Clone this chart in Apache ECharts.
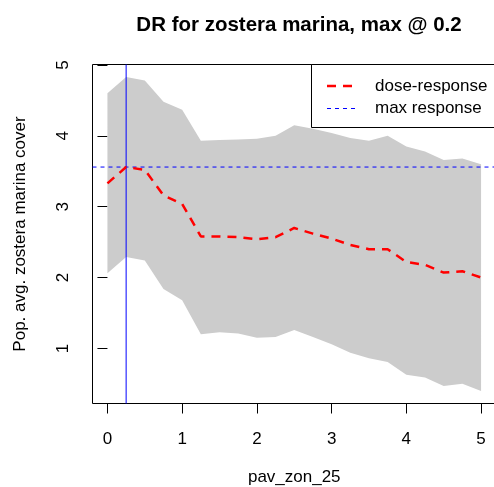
<!DOCTYPE html>
<html>
<head>
<meta charset="utf-8">
<script src="https://cdn.jsdelivr.net/npm/echarts@6/dist/echarts.min.js"></script>
<style>html,body{margin:0;padding:0;background:#fff}#c{width:494px;height:487px}</style>
</head>
<body>
<div id="c"></div>
<script>
var xValues = [0,0.25,0.5,0.75,1,1.25,1.5,1.75,2,2.25,2.5,2.75,3,3.25,3.5,3.75,4,4.25,4.5,4.75,5];
var doseResponse = [3.33,3.56,3.52,3.16,3.04,2.58,2.58,2.57,2.54,2.57,2.70,2.62,2.55,2.46,2.40,2.40,2.22,2.18,2.07,2.09,2.00];
var upperBand = [4.60,4.83,4.78,4.48,4.37,3.93,3.94,3.95,3.96,4.00,4.15,4.10,4.04,3.97,3.93,4.00,3.85,3.78,3.66,3.68,3.60];
var lowerBand = [2.06,2.29,2.24,1.84,1.68,1.20,1.23,1.21,1.15,1.16,1.26,1.16,1.06,0.94,0.86,0.81,0.63,0.59,0.47,0.50,0.40];
var maxX = 0.25;
var maxY = 3.56;
var xTicks = [0,1,2,3,4,5];
var yTicks = [1,2,3,4,5];
var titleText = 'DR for zostera marina, max @ 0.2';
var xLabel = 'pav_zon_25';
var yLabel = 'Pop. avg. zostera marina cover';
var legendNames = ['dose-response','max response'];

var allY = upperBand.concat(lowerBand).concat(doseResponse);
var yLo = Math.min.apply(null, allY), yHi = Math.max.apply(null, allY);
var xLo = Math.min.apply(null, xValues), xHi = Math.max.apply(null, xValues);
var yPad = (yHi - yLo) * 0.04, xPad = (xHi - xLo) * 0.04;
var xMin = xLo - xPad, xMax = xHi + xPad, yMin = yLo - yPad, yMax = yHi + yPad;

function pairs(ys){ return xValues.map(function(x,i){ return [x, ys[i]]; }); }
var bandData = xValues.map(function(x,i){ return [x, lowerBand[i], upperBand[i]]; });

var font = 'Liberation Sans, Arial, sans-serif';
var chart = echarts.init(document.getElementById('c'), null, {renderer:'canvas'});
chart.setOption({
  animation: false,
  backgroundColor: '#fff',
  title: {
    text: titleText, left: 294, top: 10, textAlign: 'center',
    textStyle: {fontFamily: font, fontSize: 20.5, fontWeight: 'bold', color: '#000'}
  },
  grid: {left: 92.5, top: 64.5, width: 403.5, height: 339, outerBoundsMode: 'none', containLabel: false,
         show: true, borderColor: '#000', borderWidth: 1, backgroundColor: 'transparent'},
  xAxis: {
    type: 'value', min: xMin, max: xMax,
    name: xLabel, nameLocation: 'middle', nameGap: 65,
    nameTextStyle: {fontFamily: font, fontSize: 17, color: '#000'},
    splitLine: {show: false}, axisLine: {show: false},
    axisTick: {show: true, length: 10, inside: false, lineStyle: {color: '#000'}, customValues: xTicks},
    axisLabel: {fontFamily: font, fontSize: 17, color: '#000', margin: 27, customValues: xTicks}
  },
  yAxis: {
    type: 'value', min: yMin, max: yMax,
    name: yLabel, nameLocation: 'middle', nameGap: 64, nameRotate: 90,
    nameTextStyle: {fontFamily: font, fontSize: 17, color: '#000'},
    splitLine: {show: false}, axisLine: {show: false},
    axisTick: {show: true, length: 10, lineStyle: {color: '#000'}, customValues: yTicks},
    axisLabel: {fontFamily: font, fontSize: 17, color: '#000', margin: 21, rotate: 90, customValues: yTicks}
  },
  series: [
    {type: 'custom', data: bandData, silent: true, z: 1,
     encode: {x: 0, y: [1, 2]},
     renderItem: function(params, api){
       if (params.dataIndex !== 0) return null;
       var pts = [];
       for (var i = 0; i < bandData.length; i++) pts.push(api.coord([bandData[i][0], bandData[i][2]]));
       for (var j = bandData.length - 1; j >= 0; j--) pts.push(api.coord([bandData[j][0], bandData[j][1]]));
       return {type: 'polygon', shape: {points: pts}, style: {fill: '#CCCCCC', stroke: null}};
     }},
    {type: 'line', name: legendNames[0], data: pairs(doseResponse), symbol: 'none', z: 3,
     lineStyle: {color: '#FF0000', width: 2.5, type: [9, 7]}},
    {type: 'line', name: legendNames[1], data: [[xMin, maxY], [xMax, maxY]], symbol: 'none', z: 2, silent: true,
     itemStyle: {color: '#0000FF'},
     lineStyle: {color: '#0000FF', width: 1, type: [4, 4]}},
    {type: 'line', data: [[maxX, yMin], [maxX, yMax]], symbol: 'none', z: 2, silent: true,
     itemStyle: {color: '#0000FF'},
     lineStyle: {color: '#0000FF', width: 1, type: 'solid'}}
  ],
  graphic: [
    {type: 'rect', z: 100, shape: {x: 311.5, y: 64.5, width: 200, height: 63}, style: {fill: '#fff', stroke: '#000', lineWidth: 1}},
    {type: 'line', z: 101, shape: {x1: 327, y1: 86, x2: 355, y2: 86}, style: {stroke: '#FF0000', lineWidth: 2.5, lineDash: [9, 7]}},
    {type: 'line', z: 101, shape: {x1: 327, y1: 108.5, x2: 355, y2: 108.5}, style: {stroke: '#0000FF', lineWidth: 1, lineDash: [4, 4]}},
    {type: 'text', z: 101, x: 375, y: 86, style: {text: legendNames[0], font: '17px ' + font, fill: '#000', textVerticalAlign: 'middle'}},
    {type: 'text', z: 101, x: 375, y: 108.5, style: {text: legendNames[1], font: '17px ' + font, fill: '#000', textVerticalAlign: 'middle'}}
  ]
});
</script>
</body>
</html>
